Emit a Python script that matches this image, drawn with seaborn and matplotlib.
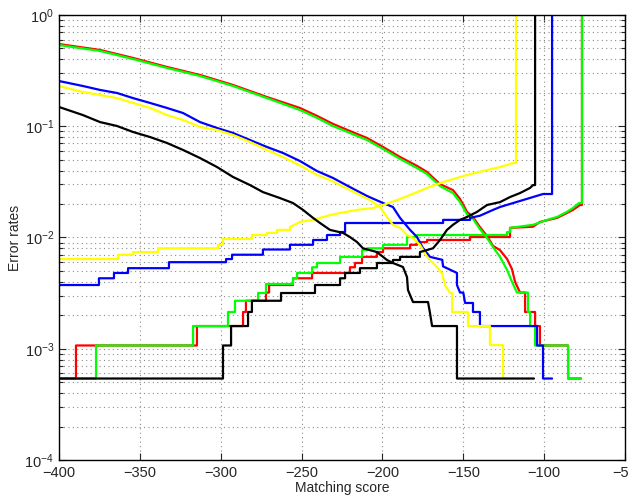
import matplotlib
matplotlib.use("Agg")
import matplotlib.pyplot as plt
import seaborn as sns
import pandas as pd
from matplotlib.ticker import LogLocator, NullFormatter

# ---------------- data ----------------
# decreasing curves (false accept) - traced outline, corners included where steps are coarse
red_dec_x = [-400, -374.6, -354.2, -333.2, -312.8, -292.4, -271.4, -251.0, -240.5, -230.6,
             -220.1, -209.5, -199.6, -189.1, -178.6, -172.4, -164.4, -156.4, -152.0, -147.7,
             -144.0, -139.7, -135.3, -131.6, -127.3, -122.9, -119.9, -118.0, -114.9, -111.8,
             -111.8, -105.6, -105.6, -102.6, -102.6, -85.2, -85.2, -77.2]
red_dec_y = [0.548, 0.485, 0.411, 0.341, 0.289, 0.235, 0.183, 0.146, 0.124, 0.105,
             0.0906, 0.0784, 0.0651, 0.0529, 0.0440, 0.0388, 0.0302, 0.0267, 0.0222, 0.0170,
             0.0153, 0.0124, 0.0103, 0.0084, 0.0077, 0.0064, 0.0052, 0.0040, 0.0032, 0.0032,
             0.00214, 0.00214, 0.0016, 0.0016, 0.00107, 0.00107, 0.00054, 0.00054]

green_dec_x = [-400, -374.6, -354.2, -333.2, -312.8, -292.4, -271.4, -251.0, -240.5, -230.6,
               -220.1, -209.5, -199.6, -189.1, -178.6, -172.4, -164.4, -156.4, -152.0, -147.7,
               -144.0, -139.7, -135.3, -131.6, -127.3, -122.9, -119.9, -116.8, -110.0, -110.0,
               -108.7, -108.7, -105.6, -105.6, -85.2, -85.2, -77.2]
green_dec_y = [0.537, 0.475, 0.402, 0.334, 0.283, 0.230, 0.179, 0.140, 0.119, 0.1005,
               0.087, 0.0752, 0.0625, 0.0508, 0.0421, 0.0372, 0.0290, 0.0251, 0.0208, 0.0162,
               0.0147, 0.0119, 0.0099, 0.0082, 0.0067, 0.0051, 0.0040, 0.0032, 0.0032, 0.00214,
               0.00214, 0.0016, 0.0016, 0.00107, 0.00107, 0.00054, 0.00054]

blue_dec_x = [-400, -385.2, -374.6, -364.1, -354.2, -343.7, -333.2, -323.3, -312.8, -302.3,
              -292.4, -281.9, -271.4, -261.5, -251.0, -240.5, -230.6, -220.1, -209.5, -199.6,
              -193.5, -189.1, -182.9, -178.6, -174.9, -170.6, -163.0, -162.5, -153.9, -153.9,
              -152.0, -150.0, -148.9, -144.0, -144.0, -139.7, -139.7, -104.4, -104.4, -100.7,
              -100.7, -95.1]
blue_dec_y = [0.255, 0.230, 0.212, 0.199, 0.179, 0.162, 0.146, 0.1315, 0.109, 0.0965,
              0.087, 0.0752, 0.0651, 0.0575, 0.0487, 0.0396, 0.0343, 0.0284, 0.0236, 0.0204,
              0.0188, 0.0150, 0.0117, 0.0101, 0.0080, 0.0067, 0.0063, 0.0055, 0.0048, 0.00374,
              0.0032, 0.0032, 0.00258, 0.00258, 0.00214, 0.00214, 0.0016, 0.0016, 0.00107, 0.00107,
              0.00054, 0.00054]

yellow_dec_x = [-400, -385.2, -374.6, -364.1, -354.2, -343.7, -333.2, -323.3, -312.8, -302.3,
                -292.4, -281.9, -271.4, -261.5, -249.1, -240.5, -232.4, -220.1, -207.7, -201.5,
                -197.2, -193.5, -189.1, -184.8, -181.1, -176.8, -172.4, -170.6, -166.3, -163.2,
                -161.3, -158.2, -156.9, -156.9, -147.1, -147.1, -133.5, -133.5, -125.4, -125.4,
                -123.6]
yellow_dec_y = [0.230, 0.203, 0.191, 0.179, 0.162, 0.146, 0.126, 0.1138, 0.0985, 0.0925,
                0.0834, 0.0722, 0.0612, 0.0529, 0.0430, 0.0365, 0.0329, 0.0267, 0.0217, 0.0188,
                0.0153, 0.0130, 0.0122, 0.0105, 0.0099, 0.0086, 0.0067, 0.00628, 0.00543, 0.0048,
                0.00374, 0.00317, 0.00317, 0.00214, 0.00214, 0.0016, 0.0016, 0.00108, 0.00108, 0.00054,
                0.00054]

black_dec_x = [-400, -385.2, -374.6, -364.1, -354.2, -343.7, -333.2, -323.3, -312.8, -302.3,
               -292.4, -281.9, -273.9, -263.3, -255.3, -249.1, -242.9, -238.6, -232.4, -224.4,
               -220.1, -215.7, -212.0, -203.4, -197.2, -193.5, -187.3, -184.8, -184.2, -181.1,
               -171.8, -170.6, -169.3, -153.9, -153.9, -106.3]
black_dec_y = [0.149, 0.126, 0.109, 0.1005, 0.0888, 0.080, 0.0707, 0.0612, 0.0518, 0.0430,
               0.0350, 0.0296, 0.0256, 0.0226, 0.0204, 0.0177, 0.0150, 0.0135, 0.0117, 0.0110,
               0.0101, 0.0091, 0.0080, 0.0074, 0.00628, 0.0059, 0.00543, 0.00441, 0.00337, 0.00263,
               0.00263, 0.0021, 0.0016, 0.0016, 0.00054, 0.00054]

# increasing curves (false reject) - step starts, last value jumps to 1
red_inc_x = [-400, -389.5, -314.7, -286.2, -284.4, -272.0, -270.1, -255.3, -243.5, -220.1,
             -217.0, -212.6, -203.4, -199.6, -182.9, -178.6, -172.4, -145.8, -121.1, -106.9,
             -102.6, -92.0, -85.9, -82.2, -77.8, -76.6]
red_inc_y = [0.00054, 0.00107, 0.0016, 0.00214, 0.0027, 0.0032, 0.00374, 0.0043, 0.0048, 0.0054,
             0.0059, 0.0067, 0.0074, 0.0080, 0.0086, 0.0091, 0.0095, 0.0101, 0.0122, 0.0125,
             0.0138, 0.0150, 0.0166, 0.0177, 0.0196, 1.0]

green_inc_x = [-400, -377.1, -317.1, -295.5, -291.2, -276.9, -272.0, -255.3, -252.8, -243.5,
               -240.5, -226.2, -212.6, -209.5, -199.6, -184.8, -178.6, -122.9, -121.1, -106.9,
               -98.2, -92.0, -85.9, -82.2, -78.5, -76.6]
green_inc_y = [0.00054, 0.00107, 0.0016, 0.00214, 0.0027, 0.00317, 0.00382, 0.0043, 0.0048, 0.0054,
               0.0059, 0.0067, 0.0077, 0.0080, 0.0086, 0.0101, 0.01053, 0.0112, 0.0122, 0.0130,
               0.0144, 0.0153, 0.0170, 0.0184, 0.0204, 1.0]

blue_inc_x = [-400, -375.3, -366.0, -357.3, -332.0, -296.7, -293.0, -273.9, -257.2, -242.9,
              -234.3, -226.2, -223.1, -162.5, -145.8, -139.7, -131.6, -127.3, -119.2, -113.1,
              -106.9, -100.7, -95.1]
blue_inc_y = [0.00374, 0.0043, 0.0048, 0.0053, 0.0060, 0.0064, 0.0070, 0.0078, 0.0086, 0.0095,
              0.01053, 0.0112, 0.0135, 0.0144, 0.0150, 0.0157, 0.0177, 0.0188, 0.0204, 0.0217,
              0.0231, 0.0246, 1.0]

yellow_inc_x = [-400, -363.5, -354.2, -338.8, -301.7, -298.6, -280.7, -271.4, -265.2, -257.2,
                -251.0, -242.9, -238.6, -232.4, -226.2, -215.7, -205.8, -199.6, -191.0, -182.9,
                -172.4, -162.5, -153.9, -147.7, -135.3, -127.3, -119.2, -117.4]
yellow_inc_y = [0.0064, 0.0070, 0.0074, 0.0080, 0.0086, 0.0097, 0.01053, 0.0110, 0.0117, 0.0124,
                0.0138, 0.0144, 0.0150, 0.0159, 0.0166, 0.0177, 0.0184, 0.0196, 0.0217, 0.0241,
                0.0279, 0.0315, 0.0343, 0.0365, 0.0404, 0.0430, 0.0467, 1.0]

black_inc_x = [-400, -298.6, -293.6, -283.1, -280.7, -262.7, -241.7, -226.2, -223.1, -213.9,
               -203.4, -193.5, -189.1, -176.8, -168.7, -164.4, -160.1, -156.4, -152.0, -147.7,
               -141.5, -135.3, -127.3, -121.1, -114.9, -108.7, -106.9, -105.6]
black_inc_y = [0.00054, 0.00107, 0.0016, 0.00214, 0.0027, 0.00317, 0.00374, 0.0043, 0.0048, 0.0053,
               0.0059, 0.00628, 0.0067, 0.0074, 0.0080, 0.0095, 0.0117, 0.0130, 0.0144, 0.0153,
               0.0170, 0.0196, 0.0208, 0.0231, 0.0251, 0.0279, 0.0296, 1.0]

x_ticks = [-400, -350, -300, -250, -200, -150, -100, -50]
x_label = "Matching score"
y_label = "Error rates"


def stair_path(xs, ys, x_fine):
    """Coarse steps (hold value to next x) left of x_fine, fine staircase
    traced as a straight line from x_fine on; final jump is vertical."""
    px, py = [], []
    n = len(xs)
    for i in range(n - 1):
        px.append(xs[i]); py.append(ys[i])
        if xs[i] < x_fine or i == n - 2:
            px.append(xs[i + 1]); py.append(ys[i])
    px.append(xs[-1]); py.append(ys[-1])
    return px, py


# ---------------- plotting ----------------
sns.set_style("ticks")
plt.rcParams["font.family"] = ["Liberation Sans", "DejaVu Sans"]
plt.rcParams["mathtext.fontset"] = "custom"
plt.rcParams["mathtext.rm"] = "Liberation Sans"
plt.rcParams["mathtext.it"] = "Liberation Sans:italic"
plt.rcParams["mathtext.bf"] = "Liberation Sans:bold"

fig = plt.figure(figsize=(6.29, 4.96), dpi=100)
ax = fig.add_axes([59 / 629, 1 - 460 / 496, (625 - 59) / 629, (460 - 15) / 496])

dec_curves = [(red_dec_x, red_dec_y, "#ff0000"), (green_dec_x, green_dec_y, "#00ff00"),
              (blue_dec_x, blue_dec_y, "#0000ff"), (yellow_dec_x, yellow_dec_y, "#ffff00"),
              (black_dec_x, black_dec_y, "#000000")]
inc_curves = [(red_inc_x, red_inc_y, "#ff0000", -121.5), (green_inc_x, green_inc_y, "#00ff00", -121.5),
              (blue_inc_x, blue_inc_y, "#0000ff", -146.0), (yellow_inc_x, yellow_inc_y, "#ffff00", -257.5),
              (black_inc_x, black_inc_y, "#000000", -177.0)]

for (dx, dy, c), (ix, iy, _, xf) in zip(dec_curves, inc_curves):
    df = pd.DataFrame({"x": dx, "y": dy})
    sns.lineplot(data=df, x="x", y="y", ax=ax, color=c, lw=1.6,
                 estimator=None, sort=False)
    sx, sy = stair_path(ix, iy, xf)
    df2 = pd.DataFrame({"x": sx, "y": sy})
    sns.lineplot(data=df2, x="x", y="y", ax=ax, color=c, lw=1.6,
                 estimator=None, sort=False)

ax.set_yscale("log")
ax.set_xlim(-400, -50)
ax.set_ylim(1e-4, 1)
ax.set_xticks(x_ticks)
ax.set_xticklabels([str(t).replace("-", "\u2212") for t in x_ticks])
ax.yaxis.set_major_locator(LogLocator(base=10, numticks=10))
ax.yaxis.set_minor_locator(LogLocator(base=10, subs=range(2, 10), numticks=20))
ax.yaxis.set_minor_formatter(NullFormatter())

ax.grid(True, which="major", axis="x", ls=(0, (1, 3)), color="0.55", lw=0.8)
ax.grid(True, which="both", axis="y", ls=(0, (1, 3)), color="0.55", lw=0.8)
ax.set_axisbelow(True)

ax.tick_params(which="both", direction="in", top=True, right=True, labelsize=10.5, width=0.8)
ax.tick_params(which="major", length=5)
ax.tick_params(which="minor", length=3)
ax.tick_params(axis="x", pad=4)
for s in ax.spines.values():
    s.set_linewidth(1.0)
    s.set_color("black")

ax.set_xlabel(x_label, fontsize=10, labelpad=1)
ax.set_ylabel(y_label, fontsize=10, labelpad=2)

fig.savefig("out.png", dpi=100)
